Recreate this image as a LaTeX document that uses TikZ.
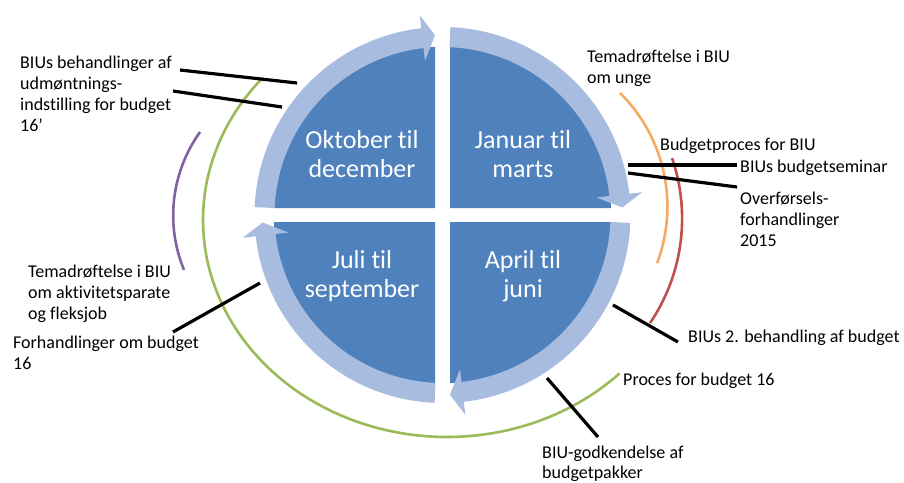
\documentclass[tikz,border=0pt]{standalone}
\usepackage{fontspec}
\setmainfont{Carlito}[Ligatures={NoCommon}]
\definecolor{qblue}{RGB}{79,129,189}
\definecolor{rblue}{RGB}{167,188,222}
\definecolor{oorange}{RGB}{247,170,100}
\definecolor{ored}{RGB}{192,80,77}
\definecolor{ogreen}{RGB}{155,187,89}
\definecolor{opurple}{RGB}{128,100,162}
\def\qcx{442.5}
\def\qcy{215}
\newcommand\ringarrow[1]{%
  \fill[rblue] plot[domain=#1+2.4:#1+83.5,samples=50] ({\qcx+188*cos(\x)},{\qcy+188*sin(\x)})
    -- ({\qcx+201*cos(#1+83.5)},{\qcy+201*sin(#1+83.5)})
    -- ({\qcx+180*cos(#1+87.6)},{\qcy+180*sin(#1+87.6)})
    -- ({\qcx+155*cos(#1+83.5)},{\qcy+155*sin(#1+83.5)})
    -- plot[domain=#1+83.5:#1+2.4,samples=50] ({\qcx+168*cos(\x)},{\qcy+168*sin(\x)}) -- cycle;}
\newcommand\quarterdisc[3]{%
  \fill[qblue] (#1,#2) -- plot[domain=#3:#3+90,samples=50] ({#1+161*cos(\x)},{#2+161*sin(\x)}) -- cycle;}
% arc: colour, centre x, centre y, radius, from angle, to angle
\newcommand\timearc[6]{%
  \draw[tarc,#1] plot[domain=#5:#6,samples=80] ({#2+#4*cos(\x)},{#3+#4*sin(\x)});}
\tikzset{
  qtxt/.style={font=\fontsize{26}{29}\selectfont, text=white, align=center, inner sep=0pt, anchor=north},
  lbl/.style={font=\fontsize{18}{21}\selectfont, text=black, align=left, inner sep=0pt, anchor=north west},
  leader/.style={line width=3.2pt, black},
  tarc/.style={line width=2.6pt}
}
\begin{document}
\begin{tikzpicture}[x=1pt,y=-1pt]
\useasboundingbox (0,0) rectangle (904,482);
\fill[white] (0,0) rectangle (904,482);
% quadrants
\quarterdisc{435}{208}{180}
\quarterdisc{450}{208}{270}
\quarterdisc{450}{222}{0}
\quarterdisc{435}{222}{90}
% ring arrows
\ringarrow{180}
\ringarrow{270}
\ringarrow{0}
\ringarrow{90}
% quadrant texts
\node[qtxt] (okt) at (362,128) {\rule{0pt}{20pt}Oktober til\\december};
\node[qtxt] (jan) at (523,128) {\rule{0pt}{20pt}Januar til\\marts};
\node[qtxt] (jul) at (362,248) {\rule{0pt}{20pt}Juli til\\september};
\node[qtxt] (apr) at (523,248) {\rule{0pt}{20pt}April til\\juni};
% coloured time arcs
\timearc{oorange}{507.4}{206.6}{160}{-45.3}{20.7}
\timearc{ored}{495.6}{218.5}{186.5}{-18.9}{34.1}
\timearc{opurple}{316.2}{215.4}{143}{157.6}{215.7}
\draw[tarc, ogreen] plot[domain=45:221,samples=100] ({447+244*cos(\x)},{220+217*sin(\x)});
% labels
\node[lbl] (t1) at (20,53) {\rule{0pt}{15pt}BIUs behandlinger af\\udmøntnings-\\indstilling for budget\\16’};
\node[lbl] (t2) at (587,47) {\rule{0pt}{15pt}Temadrøftelse i BIU\\om unge};
\node[lbl] (t3) at (660,135) {\rule{0pt}{15pt}Budgetproces for BIU};
\node[lbl] (t4) at (740,157) {\rule{0pt}{15pt}BIUs budgetseminar};
\node[lbl] (t5) at (740,189) {\rule{0pt}{15pt}Overførsels-\\forhandlinger\\2015};
\node[lbl] (t6) at (688,327) {\rule{0pt}{15pt}BIUs 2. behandling af budget};
\node[lbl] (t7) at (623,370) {\rule{0pt}{15pt}Proces for budget 16};
\node[lbl, font=\fontsize{18}{20}\selectfont] (t8) at (542,443) {\rule{0pt}{15pt}BIU-godkendelse af\\budgetpakker};
\node[lbl] (t9) at (28,262) {\rule{0pt}{15pt}Temadrøftelse i BIU\\om aktivitetsparate\\og fleksjob};
\node[lbl] (t10) at (13,333) {\rule{0pt}{15pt}Forhandlinger om budget\\16};
% leader lines
\coordinate (a1) at (180,70);  \coordinate (b1) at (297,83);
\coordinate (a2) at (173,91);  \coordinate (b2) at (282,107);
\coordinate (a3) at (173,332); \coordinate (b3) at (260,283);
\coordinate (a4) at (737,165); \coordinate (b4) at (628,165);
\coordinate (a5) at (737,187); \coordinate (b5) at (628,173);
\coordinate (a6) at (678,342); \coordinate (b6) at (613,305);
\coordinate (a7) at (598,437); \coordinate (b7) at (547,378);
\draw[leader] (a1) -- (b1);
\draw[leader] (a2) -- (b2);
\draw[leader] (a3) -- (b3);
\draw[leader] (a4) -- (b4);
\draw[leader] (a5) -- (b5);
\draw[leader] (a6) -- (b6);
\draw[leader] (a7) -- (b7);
\end{tikzpicture}
\end{document}
